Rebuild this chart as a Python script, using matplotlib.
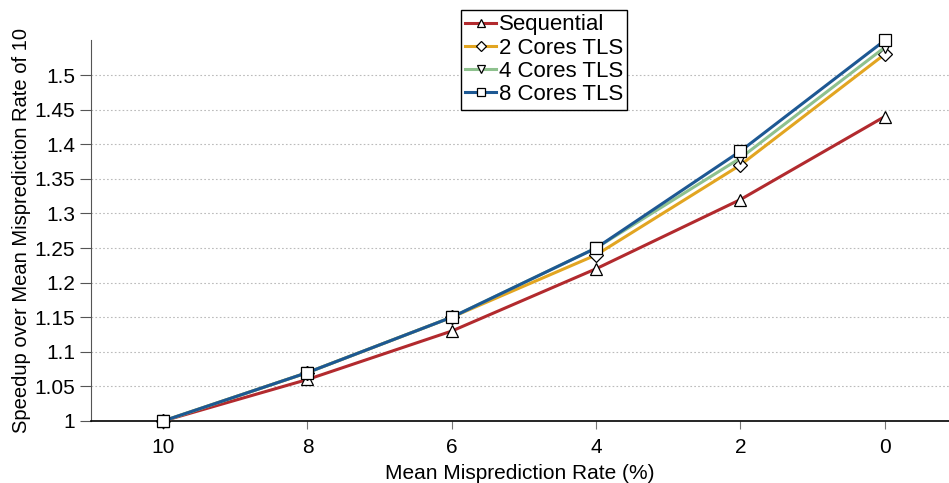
import matplotlib
matplotlib.use("Agg")
import matplotlib.pyplot as plt
from matplotlib.ticker import FixedLocator, FuncFormatter

plt.rcParams['font.family'] = ['Liberation Sans', 'DejaVu Sans']

x_rates = [10, 8, 6, 4, 2, 0]
sequential = [1.0, 1.06, 1.13, 1.22, 1.32, 1.44]
cores2 = [1.0, 1.07, 1.15, 1.24, 1.37, 1.53]
cores4 = [1.0, 1.07, 1.15, 1.25, 1.38, 1.54]
cores8 = [1.0, 1.07, 1.15, 1.25, 1.39, 1.55]
series_names = ["Sequential", "2 Cores TLS", "4 Cores TLS", "8 Cores TLS"]
y_ticks = [1.0, 1.05, 1.1, 1.15, 1.2, 1.25, 1.3, 1.35, 1.4, 1.45, 1.5]

fig = plt.figure(figsize=(9.49, 4.83), dpi=100)
ax = fig.add_axes([91/949, 62/483, 1 - 91/949, (421-40)/483])

colors = ["#B22A2E", "#E2A521", "#8EC18E", "#1D5893"]
markers = ["^", "D", "v", "s"]
msizes = [8, 7, 8, 8]
for vals, name, c, m, ms in zip([sequential, cores2, cores4, cores8], series_names, colors, markers, msizes):
    ax.plot(x_rates, vals, color=c, lw=2.2, marker=m, ms=ms, mfc="white", mec="black", mew=0.9,
            label=name, clip_on=False, zorder=3)

ax.set_xlim(11, -0.89)
ax.set_ylim(1.0, 1.5 + 35/692)
ax.set_xticks(x_rates)
ax.yaxis.set_major_locator(FixedLocator(y_ticks))
ax.yaxis.set_major_formatter(FuncFormatter(lambda v, p: f"{v:g}"))
ax.grid(axis="y", linestyle=(0, (1.5, 2)), color="#BBBBBB", lw=0.8)
ax.set_axisbelow(True)
for s in ["top", "right"]:
    ax.spines[s].set_visible(False)
ax.spines["left"].set_color("#555555")
ax.spines["bottom"].set_color("black")
ax.spines["bottom"].set_linewidth(1.2)
ax.tick_params(axis="y", direction="out", length=8, color="#555555", labelsize=15)
ax.tick_params(axis="x", direction="out", length=6, color="#777777", labelsize=15, pad=6)
ax.set_xlabel("Mean Misprediction Rate (%)", fontsize=15, labelpad=5)
ax.set_ylabel("Speedup over Mean Misprediction Rate of 10", fontsize=14.5, labelpad=2)

leg = ax.legend(loc="upper center", bbox_to_anchor=(544/949, 1 - 10/483), bbox_transform=fig.transFigure,
                fontsize=16, frameon=True, fancybox=False, edgecolor="black", framealpha=1,
                handlelength=1.4, handletextpad=0.1, borderpad=0.2, labelspacing=0.1, borderaxespad=0,
                markerscale=0.8)
leg.get_frame().set_linewidth(1.0)

fig.savefig("out.png", dpi=100)
